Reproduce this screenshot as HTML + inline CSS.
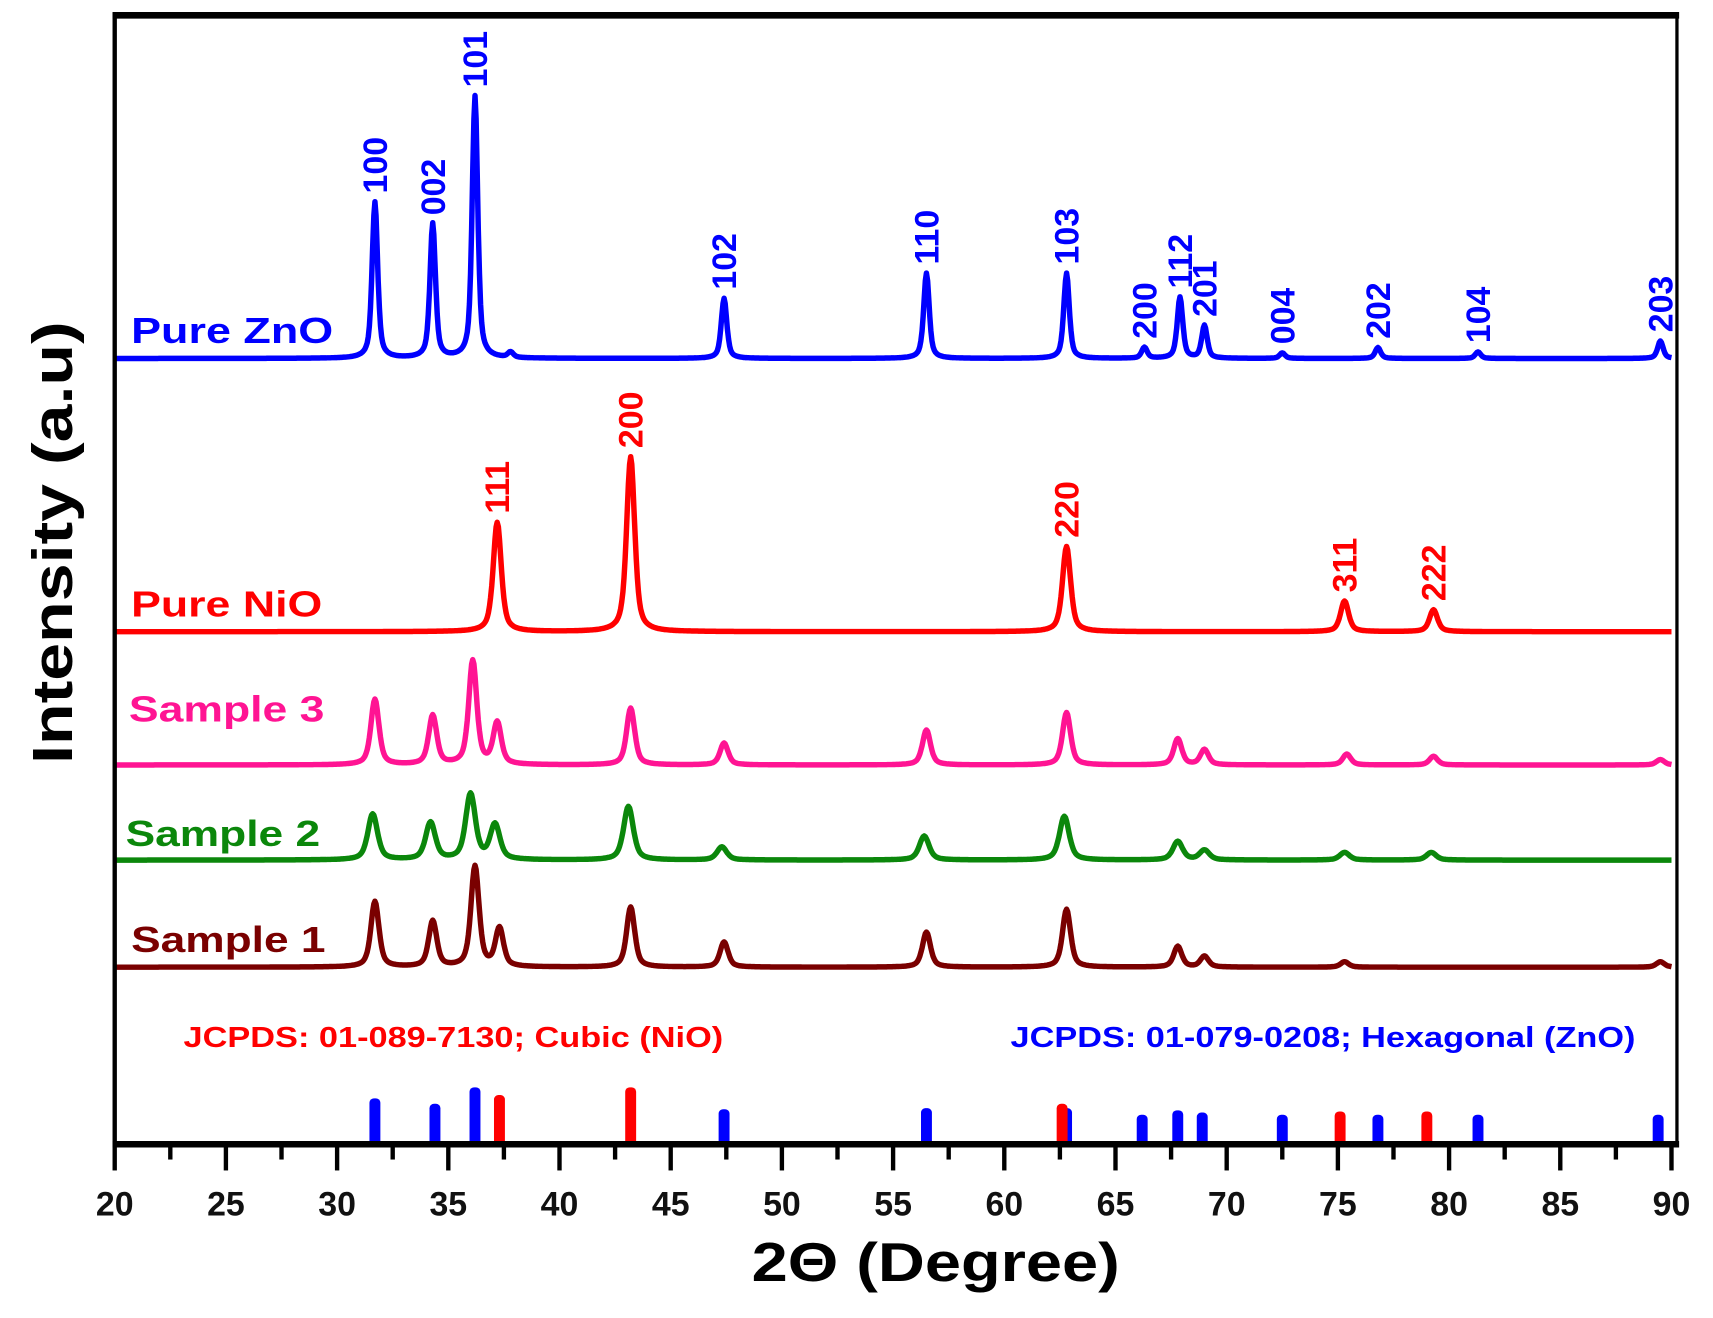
<!DOCTYPE html>
<html><head><meta charset="utf-8"><style>
html,body{margin:0;padding:0;background:#fff;}
svg{display:block;}
text{font-family:"Liberation Sans",sans-serif;font-weight:bold;}
</style></head><body>
<svg id="chart" width="1713" height="1318" viewBox="0 0 1568 1206" preserveAspectRatio="none" xmlns="http://www.w3.org/2000/svg">
<rect x="0" y="0" width="1568" height="1206" fill="#fff"/>
<g id="plot"></g>
<g id="axes"></g>
</svg>
<script>
// ---- data ----
const xTicks = [20,25,30,35,40,45,50,55,60,65,70,75,80,85,90];
const seriesNames = ["Pure ZnO","Pure NiO","Sample 3","Sample 2","Sample 1"];
const seriesColors = ["#0000ff","#ff0000","#ff1493","#0b870b","#7a0000"];
const seriesBaseline = [0, 0, 0, 0, 0];
const znoPos = [31.7,34.3,36.2,37.8,47.4,56.5,62.8,66.3,67.9,69.0,72.5,76.8,81.3,89.5];
const znoInt = [143,123,240,5,55,78,78,10,56,30,5,10,6,16];
const znoLabels = ["100","002","101","","102","110","103","200","112","201","004","202","104","203"];
const nioPos = [37.2,43.2,62.8,75.3,79.3];
const nioInt = [100,160,78,28,20];
const nioLabels = ["111","200","220","311","222"];
const s3Pos = [31.7,34.3,36.1,37.2,43.2,47.4,56.5,62.8,67.8,69.0,75.4,79.3,89.5];
const s3Int = [60,45,95,38,52,20,32,48,24,14,10,8,5];
const s2Pos = [31.6,34.2,36.0,37.1,43.1,47.3,56.4,62.7,67.8,69.0,75.3,79.2];
const s2Int = [42,34,60,32,49,12,22,40,17,9,7,7];
const s1Pos = [31.7,34.3,36.2,37.3,43.2,47.4,56.5,62.8,67.8,69.0,75.3,89.5];
const s1Int = [60,42,92,35,55,23,32,53,19,10,5,5];
const refZnO = [31.7,34.4,36.2,47.4,56.5,62.8,66.2,67.8,68.9,72.5,76.8,81.3,89.4];
const refZnOH = [42,37,52,32,33,33,27,31,29,27,27,27,27];
const refNiO = [37.3,43.2,62.6,75.1,79.0];
const refNiOH = [45,52,37,30,30];

// ---- layout ----
const NS="http://www.w3.org/2000/svg";
const X0=105, X1=1530, AX=1047;
const xs = v => X0 + (v-20)*(X1-X0)/70;
const bases = [328,578,700,787,885];
const widths = [0.17,0.25,0.25,0.3,0.25];
const plot=document.getElementById('plot'), axes=document.getElementById('axes');
function mk(tag, attrs, parent){const e=document.createElementNS(NS,tag);for(const k in attrs)e.setAttribute(k,attrs[k]);parent.appendChild(e);return e;}

const allPos=[znoPos,nioPos,s3Pos,s2Pos,s1Pos], allInt=[znoInt,nioInt,s3Int,s2Int,s1Int];
const seriesKeys=["zno","nio","sample-3","sample-2","sample-1"];
for(let s=0;s<5;s++){
  let d="";
  for(let v=20;v<=90.001;v+=0.05){
    let y=seriesBaseline[s];
    const P=allPos[s],I=allInt[s],w=widths[s];
    for(let i=0;i<P.length;i++){const t=(v-P[i])/w;y+=I[i]/(1+t*t*1.2)*0.55+I[i]*0.45*Math.exp(-t*t);}
    d+=(d?"L":"M")+xs(v).toFixed(1)+","+(bases[s]-y).toFixed(1);
  }
  const p=mk('path',{d:d,fill:"none",stroke:seriesColors[s],"stroke-width":5,"stroke-linejoin":"round"},plot);
  
  
}
// series labels
const labPos=[[120,314],[120,564],[118,660],[115,774],[120,871]];
const labLen=[185,175,179,178,178];
for(let s=0;s<5;s++){
  const t=mk('text',{x:labPos[s][0],y:labPos[s][1],fill:seriesColors[s],"font-size":33,textLength:labLen[s],lengthAdjust:"spacingAndGlyphs"},plot);
  t.textContent=seriesNames[s];
  
  
}
// miller labels
function miller(P,I,L,base,color,key){
  for(let i=0;i<P.length;i++){ if(!L[i])continue;
    const x=xs(P[i])+11, y=base-I[i]-8;
    const t=mk('text',{x:0,y:0,fill:color,"font-size":31,transform:`translate(${x},${y}) rotate(-90)`},plot);
    t.textContent=L[i];
    
    
  }
}
miller(znoPos,znoInt,znoLabels,bases[0],"#0000ff","zno");
miller(nioPos,nioInt,nioLabels,bases[1],"#ff0000","nio");
// reference bars
function bars(P,H,color,key){
  for(let i=0;i<P.length;i++){
    const r=mk('rect',{x:xs(P[i])-5,y:AX-H[i],width:10,height:H[i]+3,rx:4,fill:color},plot);
    
    
  }
}
bars(refZnO,refZnOH,"#0000ff","zno");
bars(refNiO,refNiOH,"#ff0000","nio");
let j=mk('text',{x:168,y:958,fill:"#ff0000","font-size":26,textLength:494,lengthAdjust:"spacingAndGlyphs"},plot);j.textContent="JCPDS: 01-089-7130; Cubic (NiO)";


j=mk('text',{x:925,y:958,fill:"#0000ff","font-size":26,textLength:572,lengthAdjust:"spacingAndGlyphs"},plot);j.textContent="JCPDS: 01-079-0208; Hexagonal (ZnO)";



// axes frame
let e=mk('line',{x1:103,y1:14,x2:1537,y2:14,stroke:"#000","stroke-width":6},axes);

e=mk('line',{x1:105,y1:12,x2:105,y2:1050,stroke:"#000","stroke-width":4},axes);

e=mk('line',{x1:1535,y1:12,x2:1535,y2:1050,stroke:"#000","stroke-width":3},axes);

e=mk('line',{x1:103,y1:AX,x2:1537,y2:AX,stroke:"#000","stroke-width":6},axes);

for(let k=0;k<xTicks.length;k++){
  const v=xTicks[k];
  const t=mk('line',{x1:xs(v),y1:AX,x2:xs(v),y2:AX+24,stroke:"#000","stroke-width":4},axes);
  
  if(k<xTicks.length-1){
    const m=mk('line',{x1:xs(v+2.5),y1:AX,x2:xs(v+2.5),y2:AX+14,stroke:"#000","stroke-width":4},axes);
    
  }
  const l=mk('text',{x:xs(v),y:1112,"text-anchor":"middle","font-size":31,fill:"#111"},axes);
  l.textContent=v;
  
}
e=mk('text',{x:688,y:1172,"font-size":50,fill:"#000",textLength:337,lengthAdjust:"spacingAndGlyphs"},axes);e.textContent="2\u0398 (Degree)";

e=mk('text',{x:-202,y:0,"font-size":52,fill:"#000",textLength:405,lengthAdjust:"spacingAndGlyphs",transform:"translate(66,497) rotate(-90)"},axes);e.textContent="Intensity (a.u)";

</script>
</body></html>
